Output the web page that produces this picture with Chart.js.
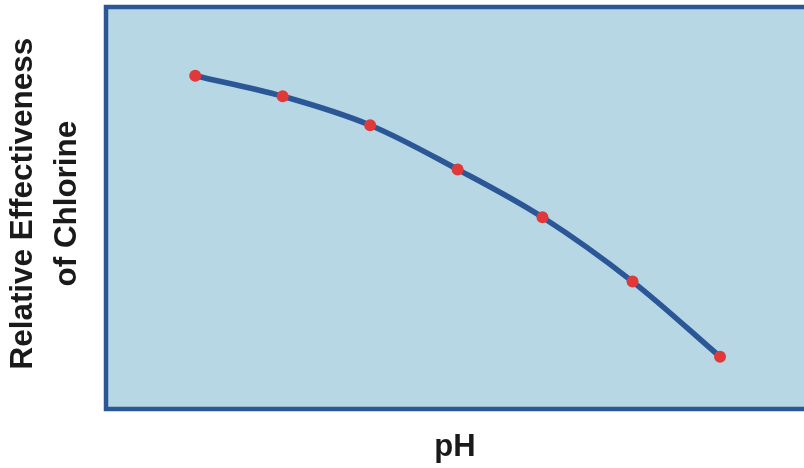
<!DOCTYPE html>
<html>
<head>
<meta charset="utf-8">
<script src="https://cdn.jsdelivr.net/npm/chart.js@4"></script>
<style>
  html, body { margin: 0; padding: 0; background: #fff; }
  #wrap { width: 804px; height: 468px; }
</style>
</head>
<body>
<div id="wrap"><canvas id="phChart"></canvas></div>
<script>
// pH readings and relative chlorine effectiveness (0-100)
const phValues = [6, 6.5, 7, 7.5, 7.985, 8.5, 9];
const effectiveness = [82.9, 77.8, 70.6, 59.6, 47.7, 31.7, 13.0];
const xTitle = 'pH';
const yTitle = [' Relative Effectiveness', ' of Chlorine'];

// plot background and frame (left, top, bottom edges)
const framePlugin = {
    id: 'frame',
    beforeDraw(chart) {
        const {ctx, chartArea: a} = chart;
        ctx.save();
        ctx.fillStyle = '#b6d7e3';
        ctx.fillRect(a.left, a.top, a.right - a.left, a.bottom - a.top);
        ctx.restore();
    },
    afterDraw(chart) {
        const {ctx, chartArea: a} = chart;
        ctx.save();
        ctx.strokeStyle = '#2b5797';
        ctx.lineWidth = 4.5;
        ctx.beginPath();
        ctx.moveTo(a.right + 5, a.top);
        ctx.lineTo(a.left, a.top);
        ctx.lineTo(a.left, a.bottom);
        ctx.lineTo(a.right + 5, a.bottom);
        ctx.stroke();
        ctx.restore();
    }
};

new Chart(document.getElementById('phChart'), {
    type: 'line',
    data: {
        datasets: [{
            data: phValues.map((x, i) => ({x: x, y: effectiveness[i]})),
            borderColor: '#2b5797',
            borderWidth: 5.5,
            tension: 0.35,
            pointRadius: 6,
            pointBorderWidth: 0,
            pointBackgroundColor: '#e0393a',
            pointBorderColor: '#e0393a'
        }]
    },
    options: {
        responsive: true,
        maintainAspectRatio: false,
        animation: false,
        layout: { autoPadding: false, padding: { top: 7, right: 0, bottom: 0, left: 0 } },
        plugins: { legend: { display: false }, tooltip: { enabled: false } },
        scales: {
            x: {
                type: 'linear',
                min: 5.49,
                max: 9.48,
                grid: { display: false },
                border: { display: false },
                ticks: { display: false },
                title: {
                    display: true,
                    text: xTitle,
                    color: '#1a1a1a',
                    font: { family: 'Liberation Sans, Arial, sans-serif', size: 31, weight: 'bold', lineHeight: 1.2 },
                    padding: { top: 0, bottom: 2 }
                },
                afterFit(scale) { scale.height = 59; }
            },
            y: {
                min: 0,
                max: 100,
                grid: { display: false },
                border: { display: false },
                ticks: { display: false },
                title: {
                    display: true,
                    text: yTitle,
                    color: '#1a1a1a',
                    font: { family: 'Liberation Sans, Arial, sans-serif', size: 31.4, weight: 'bold', lineHeight: 1.38 },
                    padding: { top: 2, bottom: 0 }
                },
                afterFit(scale) { scale.width = 106; }
            }
        }
    },
    plugins: [framePlugin]
});
</script>
</body>
</html>
